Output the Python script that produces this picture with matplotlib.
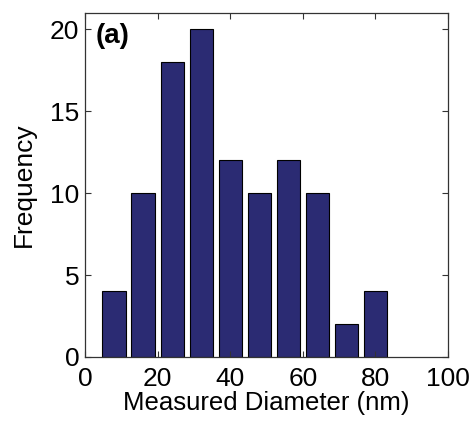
import numpy as np
import matplotlib
matplotlib.use('Agg')
import matplotlib.pyplot as plt

plt.rcParams['font.family'] = ['Liberation Sans', 'DejaVu Sans']

# histogram data
bin_centers = [8, 16, 24, 32, 40, 48, 56, 64, 72, 80]
counts = [4, 10, 18, 20, 12, 10, 12, 10, 2, 4]

fig = plt.figure(figsize=(4.75, 4.29), dpi=100)
ax = fig.add_axes([0.179, 0.168, 0.764, 0.802])

ax.bar(bin_centers, counts, width=6.4, color='#2b2b73', edgecolor='black', linewidth=0.8)

ax.set_xlim(0, 100)
ax.set_ylim(0, 21)
ax.set_xticks([0, 20, 40, 60, 80, 100])
ax.set_yticks([0, 5, 10, 15, 20])
ax.tick_params(direction='in', top=True, right=True, length=4, width=0.8,
               labelsize=19, color='#333333')
ax.tick_params(axis='x', pad=7)
ax.tick_params(axis='y', pad=4)
for s in ax.spines.values():
    s.set_color('#333333')
    s.set_linewidth(0.9)

ax.set_xlabel('Measured Diameter (nm)', fontsize=18.5, labelpad=0)
ax.set_ylabel('Frequency', fontsize=19, labelpad=10)
ax.text(0.03, 0.97, '(a)', transform=ax.transAxes, fontsize=20, fontweight='bold',
        va='top', ha='left')

fig.savefig('out.png', dpi=100)
